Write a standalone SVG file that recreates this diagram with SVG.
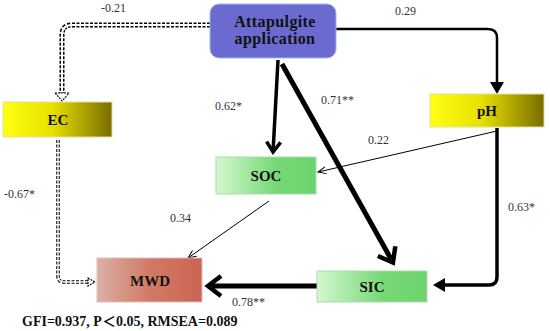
<svg xmlns="http://www.w3.org/2000/svg" width="550" height="331" viewBox="0 0 550 331">
<style>
.node{font-family:"Liberation Serif","Times New Roman",serif;font-weight:bold;font-size:15px;fill:#111;text-anchor:middle}
.big{font-size:16px;letter-spacing:0.4px}
.lbl{font-family:"Liberation Serif","Times New Roman",serif;font-size:12px;fill:#333}
.foot{font-family:"Liberation Serif","Noto Sans CJK SC",serif;font-weight:bold;font-size:14px;fill:#111}
.solid{fill:none;stroke:#000;stroke-linecap:butt;stroke-linejoin:round}
.dashOut{fill:none;stroke:#000;stroke-dasharray:3 1.5}
.dashIn{fill:none;stroke:#fff}
.hollow{fill:#fff;stroke:#000;stroke-width:1.1;stroke-dasharray:2 1}
</style>
<defs>
<linearGradient id="gYel" x1="0" y1="0" x2="1" y2="0">
<stop offset="0" stop-color="#ffff12"/><stop offset="0.45" stop-color="#e8e000"/><stop offset="1" stop-color="#7a6c00"/>
</linearGradient>
<linearGradient id="gGrn" x1="0" y1="0" x2="1" y2="0">
<stop offset="0" stop-color="#d4f8d0"/><stop offset="0.6" stop-color="#76d876"/><stop offset="1" stop-color="#6dd46d"/>
</linearGradient>
<linearGradient id="gRed" x1="0" y1="0" x2="1" y2="0">
<stop offset="0" stop-color="#dcb0a4"/><stop offset="0.5" stop-color="#d07a66"/><stop offset="1" stop-color="#cc6452"/>
</linearGradient>
<marker id="tri" markerUnits="userSpaceOnUse" markerWidth="12" markerHeight="14" viewBox="0 0 12 14" refX="3" refY="7" orient="auto">
<path d="M0,0 L12,7 L0,14 Z" fill="#000"/>
</marker>
<marker id="chevM" markerUnits="userSpaceOnUse" markerWidth="16" markerHeight="18" viewBox="0 0 16 18" refX="9" refY="9" orient="auto" overflow="visible">
<path d="M2,2 L12,9 L2,16" fill="none" stroke="#000" stroke-width="3.5" stroke-linejoin="miter"/>
</marker>
<marker id="chevL" markerUnits="userSpaceOnUse" markerWidth="20" markerHeight="24" viewBox="0 0 20 24" refX="11" refY="12" orient="auto" overflow="visible">
<path d="M2,2 L15,12 L2,22" fill="none" stroke="#000" stroke-width="4.5" stroke-linejoin="miter"/>
</marker>
<marker id="thin" markerUnits="userSpaceOnUse" markerWidth="10" markerHeight="10" viewBox="0 0 10 10" refX="9" refY="5" orient="auto">
<path d="M1,1.5 L9,5 L1,8.5" fill="none" stroke="#000" stroke-width="1"/>
</marker>
</defs>
<rect width="550" height="331" fill="#fff"/>

<g id="connectors">
<!-- Attapulgite -> EC (dashed) -->
<path class="dashOut" stroke-width="5" d="M210,25 H72 Q62,25 62,35 V93"/>
<path class="dashIn" stroke-width="2" d="M210,25 H72 Q62,25 62,35 V94"/>
<polygon class="hollow" points="55,93 69,93 62,101"/>
<!-- EC -> MWD (dashed) -->
<path class="dashOut" stroke-width="3.5" d="M58,140 V276 Q58,282 64,282 H88"/>
<path class="dashIn" stroke-width="1.4" d="M58,140 V276 Q58,282 64,282 H89"/>
<polygon class="hollow" points="88,278 95,282 88,286"/>
<!-- Attapulgite -> pH -->
<path class="solid" stroke-width="2.5" marker-end="url(#tri)" d="M336,29 H488 Q497,29 497,38 V85"/>
<!-- Attapulgite -> SOC -->
<path class="solid" stroke-width="3.5" marker-end="url(#chevM)" d="M278,60 L273.2,149"/>
<!-- Attapulgite -> SIC -->
<path class="solid" stroke-width="5" marker-end="url(#chevL)" d="M282,64 L391,259"/>
<!-- pH -> SIC -->
<path class="solid" stroke-width="3.5" marker-end="url(#tri)" d="M497,128 V277 Q497,285 489,285 H442"/>
<!-- pH -> SOC -->
<path class="solid" stroke-width="1" marker-end="url(#thin)" d="M497,131 L318,172"/>
<!-- SOC -> MWD -->
<path class="solid" stroke-width="1" marker-end="url(#thin)" d="M269,201 L188,258"/>
<!-- SIC -> MWD -->
<path class="solid" stroke-width="5" marker-end="url(#chevL)" d="M317,286 L212,286"/>
</g>

<g id="node-attapulgite">
<rect x="210" y="4" width="126" height="54" rx="9" fill="#6a6ad0" stroke="#9cb8f0" stroke-width="1"/>
<text class="node big" x="275" y="27">Attapulgite</text>
<text class="node big" x="275" y="44">application</text>
</g>
<g id="node-ec">
<rect x="3" y="102" width="109" height="35" fill="url(#gYel)" stroke="#e0e0a0" stroke-width="1"/>
<text class="node" x="58" y="125">EC</text>
</g>
<g id="node-ph">
<rect x="430" y="94" width="114" height="33" fill="url(#gYel)" stroke="#e0e0a0" stroke-width="1"/>
<text class="node" x="487" y="116">pH</text>
</g>
<g id="node-soc">
<rect x="216" y="157" width="100" height="37" fill="url(#gGrn)" stroke="#b0d8b0" stroke-width="1"/>
<text class="node" x="266" y="181">SOC</text>
</g>
<g id="node-sic">
<rect x="317" y="271" width="110" height="31" fill="url(#gGrn)" stroke="#b0d8b0" stroke-width="1"/>
<text class="node" x="372" y="292">SIC</text>
</g>
<g id="node-mwd">
<rect x="97" y="258" width="105" height="44" fill="url(#gRed)" stroke="#d8c0c0" stroke-width="1"/>
<text class="node" x="150" y="286">MWD</text>
</g>

<g id="labels">
<text class="lbl" x="101" y="12">-0.21</text>
<text class="lbl" x="395" y="15">0.29</text>
<text class="lbl" x="215" y="110">0.62*</text>
<text class="lbl" x="321" y="104">0.71**</text>
<text class="lbl" x="368" y="144">0.22</text>
<text class="lbl" x="508" y="211">0.63*</text>
<text class="lbl" x="4" y="198">-0.67*</text>
<text class="lbl" x="170" y="222">0.34</text>
<text class="lbl" x="232" y="306">0.78**</text>
<text class="foot" x="22" y="326">GFI=0.937, P＜0.05, RMSEA=0.089</text>
</g>
</svg>
